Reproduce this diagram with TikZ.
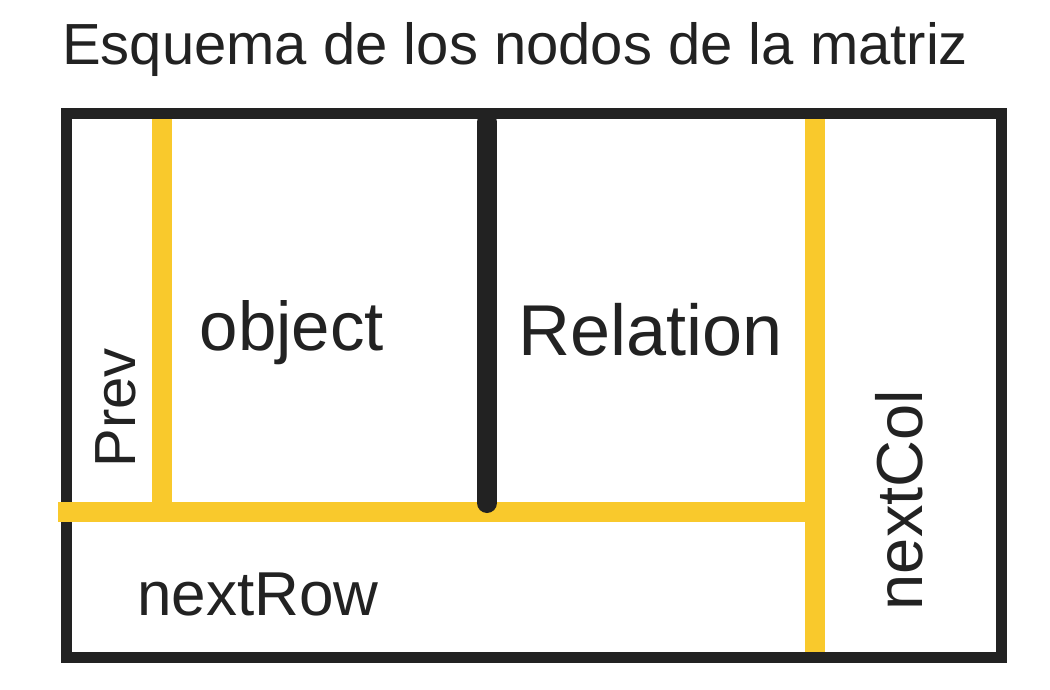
\documentclass[tikz,border=0pt]{standalone}
\usepackage{fontspec}
\setmainfont{Liberation Sans}
\usepackage{xcolor}
\usepackage{tikz}
\usetikzlibrary{positioning,backgrounds}
\definecolor{cInk}{HTML}{222222}
\definecolor{cYellow}{HTML}{F9C92C}
\tikzset{
  frame/.style={draw=cInk,line width=11pt},
  ybar/.style={draw=cYellow,line width=20pt},
  kbar/.style={draw=cInk,line width=20pt,line cap=round},
  hand/.style={font=\fontsize{#1}{#1}\selectfont,text=cInk,inner sep=0pt},
  hand/.default=64,
}

\begin{document}
\begin{tikzpicture}[x=1pt,y=-1pt]
    \useasboundingbox[fill=white] (0,0) rectangle (1050,690);
    % title
    \node[anchor=base west,font=\fontsize{58}{58}\selectfont,text=cInk,inner sep=0pt] (title) at (62,65) {Esquema de los nodos de la matriz};
    % outer frame of the node
    \draw[frame] (66,114) rectangle (1001,657);
    % yellow links
    \draw[ybar] (162,119.5) -- (162,512);
    \draw[ybar] (815,119.5) -- (815,651.5);
    \draw[ybar] (58,512) -- (825,512);
    % black divider between object and relation
    \draw[kbar] (487,122) -- (487,503);
    % fields
    \node[hand=69] (obj) at (292,333) {object};
    \node[hand=72] (rel) at (651,330) {Relation};
    \node[hand=62] (nrow) at (258,594) {nextRow};
    \node[hand=58,rotate=90] (prev) at (116,408) {Prev};
    \node[hand=65,rotate=90] (ncol) at (899,500) {nextCol};
\end{tikzpicture}
\end{document}
